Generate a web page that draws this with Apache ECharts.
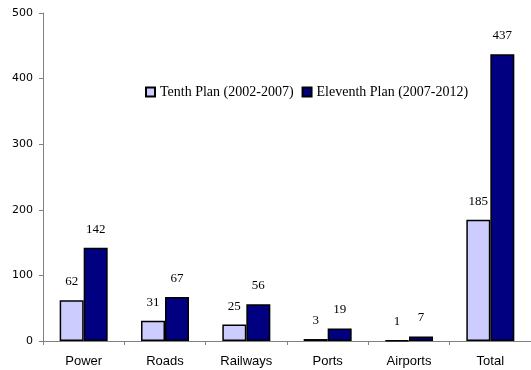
<!DOCTYPE html>
<html><head><meta charset="utf-8">
<script src="https://cdn.jsdelivr.net/npm/echarts@6/dist/echarts.min.js"></script>
<style>html,body{margin:0;padding:0;background:#fff}#c{width:531px;height:370px}</style>
</head><body><div id="c"></div>
<script>
const categories = ['Power', 'Roads', 'Railways', 'Ports', 'Airports', 'Total'];
const tenthPlan = [62, 31, 25, 3, 1, 185];
const eleventhPlan = [142, 67, 56, 19, 7, 437];
const seriesNames = ['Tenth Plan (2002-2007)', 'Eleventh Plan (2007-2012)'];

const chart = echarts.init(document.getElementById('c'));
const labelStyle = {
  show: true, position: 'top', distance: 12,
  fontFamily: 'Liberation Serif', fontSize: 13, color: '#000'
};
chart.setOption({
  animation: false,
  legend: {
    top: 80, left: 140,
    itemWidth: 9, itemHeight: 9, itemGap: 8,
    icon: 'rect',
    textStyle: { fontFamily: 'Liberation Serif', fontSize: 14, color: '#000' },
    data: seriesNames
  },
  grid: { left: 43, top: 13, bottom: 29, width: 492 },
  xAxis: {
    type: 'category', data: categories,
    axisLine: { lineStyle: { color: '#808080' } },
    axisTick: { show: true, lineStyle: { color: '#808080' }, length: 4 },
    axisLabel: { fontFamily: 'Liberation Sans', fontSize: 13, color: '#000', margin: 14 }
  },
  yAxis: {
    type: 'value', min: 0, max: 500, interval: 100,
    axisLine: { show: true, lineStyle: { color: '#808080' } },
    axisTick: { show: true, lineStyle: { color: '#808080' }, length: 4 },
    splitLine: { show: false },
    axisLabel: { fontFamily: 'DejaVu Sans', fontSize: 11, color: '#000', margin: 10 }
  },
  series: [
    {
      name: seriesNames[0], type: 'bar', data: tenthPlan,
      barWidth: 24, barGap: '0%',
      itemStyle: { color: '#CCCCFF', borderColor: '#000', borderWidth: 1.5 },
      label: labelStyle
    },
    {
      name: seriesNames[1], type: 'bar', data: eleventhPlan,
      barWidth: 24,
      itemStyle: { color: '#000080', borderColor: '#000', borderWidth: 1.5 },
      label: labelStyle
    }
  ]
});
</script></body></html>
